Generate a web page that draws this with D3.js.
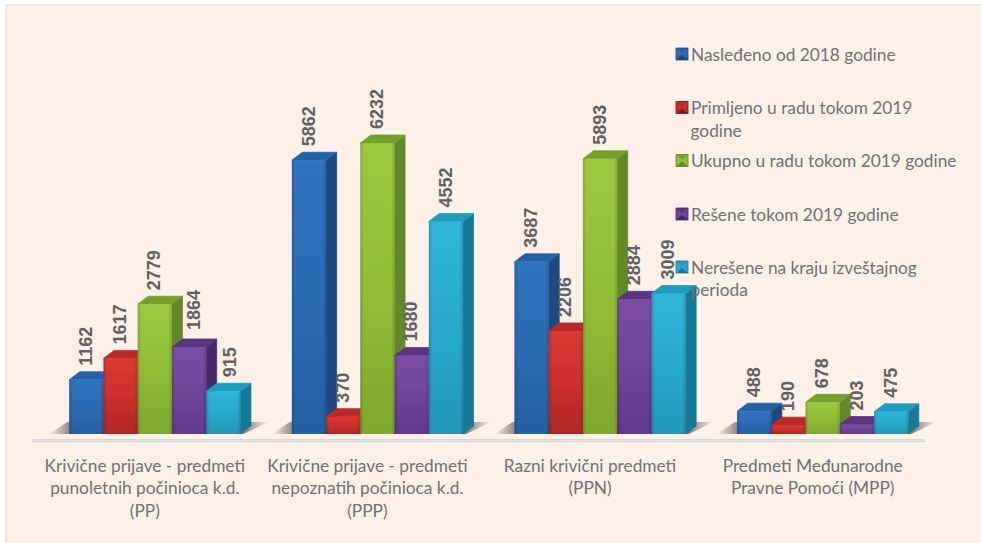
<!DOCTYPE html>
<html><head><meta charset="utf-8">
<style>html,body{margin:0;padding:0;background:#fff}svg{display:block}</style>
<script src="https://cdn.jsdelivr.net/npm/d3@7"></script></head><body>
<svg id="c" width="981" height="543"></svg>
<script>
const categories=[["Krivične prijave - predmeti","punoletnih počinioca k.d.","(PP)"],["Krivične prijave - predmeti","nepoznatih počinioca k.d.","(PPP)"],["Razni krivični predmeti","(PPN)"],["Predmeti Međunarodne","Pravne Pomoći (MPP)"]];
const seriesNames=[["Nasleđeno od 2018 godine"],["Primljeno u radu tokom 2019","godine"],["Ukupno u radu tokom 2019 godine"],["Rešene tokom 2019 godine"],["Nerešene na kraju izveštajnog","perioda"]];
const nasledjeno=[1162,5862,3687,488];
const primljeno=[1617,370,2206,190];
const ukupno=[2779,6232,5893,678];
const resene=[1864,1680,2884,203];
const neresene=[915,4552,3009,475];
const seriesValues=[nasledjeno,primljeno,ukupno,resene,neresene];
const front=[["#2f74bd","#2b6cb2","#2560a3"],["#dc3a34","#cb302d","#b02826"],["#9bca3e","#90bd36","#80a82f"],["#7d4ea6","#71449b","#62398a"],["#2fb6d8","#28aacd","#2197b9"]];
const side=["#1b4a80","#7f1c1b","#64882c","#46296b","#177a96"];
const topC=["#2463a8","#b92a28","#76a02e","#5a3683","#1f9cbf"];
const labelNudge={"3,0":[5,-3],"4,0":[7,0]};
const svg=d3.select("#c");
const defs=svg.append("defs");
front.forEach((f,i)=>{const g=defs.append("linearGradient").attr("id","g"+i).attr("x1",0).attr("x2",0).attr("y1",0).attr("y2",1);
 f.forEach((c,j)=>g.append("stop").attr("offset",j/2).attr("stop-color",c));
 const e=defs.append("linearGradient").attr("id","e"+i);
 e.append("stop").attr("offset",0).attr("stop-color","#000").attr("stop-opacity",.18);
 e.append("stop").attr("offset",.1).attr("stop-color","#000").attr("stop-opacity",0);
 e.append("stop").attr("offset",.9).attr("stop-color","#000").attr("stop-opacity",0);
 e.append("stop").attr("offset",1).attr("stop-color","#000").attr("stop-opacity",.15);});
const sh=defs.append("linearGradient").attr("id","sh");
[[0,0],[.12,.7],[.86,.75],[1,0]].forEach(s=>sh.append("stop").attr("offset",s[0]).attr("stop-color","#3a3028").attr("stop-opacity",s[1]));
const fl=defs.append("filter").attr("id","blur");fl.append("feGaussianBlur").attr("stdDeviation",.4);

svg.append("rect").attr("x",6).attr("y",5).attr("width",990).attr("height",550).attr("fill","#fdf0e6").attr("stroke","#dfe0e0").attr("stroke-width",1.2);

const base=434, dx=10.5, dy=8;
const x0=d3.scaleBand().domain(d3.range(4)).range([43.5,934]);
const x1=d3.scaleBand().domain(d3.range(5)).range([0,171.2]);
const y=d3.scaleLinear().domain([0,6232]).range([base,143]);
const gx=i=>x0(i)+(x0.bandwidth()-171.2)/2;

svg.append("rect").attr("x",33).attr("y",439.8).attr("width",891).attr("height",2).attr("fill","#e4e7e9").attr("stroke","#b9bcbc").attr("stroke-width",.5);

const groups=svg.selectAll("g.grp").data(d3.range(4)).join("g").attr("class","grp").attr("transform",i=>`translate(${gx(i)},0)`).attr("filter","url(#blur)");
groups.append("polygon").attr("points",`-20,${base} ${171.2+3},${base} ${171.2+28},${base-12} -2,${base-12}`).attr("fill","url(#sh)");
groups.each(function(c){
 const g=d3.select(this);
 d3.range(5).forEach(s=>{
  const v=seriesValues[s][c],X=x1(s),W=x1.bandwidth(),Y=y(v);
  g.append("polygon").attr("points",[[X+W,Y],[X+W+dx,Y-dy],[X+W+dx,base-dy],[X+W,base]].join(" ")).attr("fill",side[s]).attr("stroke",side[s]).attr("stroke-width",.8).attr("stroke-linejoin","round");
  g.append("polygon").attr("points",[[X,Y],[X+dx,Y-dy],[X+W+dx,Y-dy],[X+W,Y]].join(" ")).attr("fill",topC[s]).attr("stroke",topC[s]).attr("stroke-width",.8).attr("stroke-linejoin","round");
  g.append("rect").attr("x",X).attr("y",Y).attr("width",W).attr("height",base-Y).attr("fill",`url(#g${s})`);
  g.append("rect").attr("x",X).attr("y",Y).attr("width",W).attr("height",base-Y).attr("fill",`url(#e${s})`);
 });
});
d3.range(4).forEach(c=>d3.range(5).forEach(s=>{
 const v=seriesValues[s][c],n=labelNudge[s+","+c]||[0,0];
 const X=gx(c)+x1(s)+x1.bandwidth()/2-1+n[0],Y=y(v)-14+n[1];
 svg.append("text").attr("transform",`translate(${X+6.6},${Y}) rotate(-90)`).attr("font-family","Liberation Sans").attr("font-weight","bold").attr("font-size",18).attr("fill","#606163").text(v);
}));
categories.forEach((ls,c)=>{
 ls.forEach((l,i)=>svg.append("text").attr("x",x0(c)+x0.bandwidth()/2-10).attr("y",471.7+i*22.5).attr("text-anchor","middle").attr("font-family","Lato").attr("font-size",17.3).attr("fill","#6f7276").text(l));
});
const legendY=[54,107.5,160.5,214,267];
seriesNames.forEach((ls,s)=>{
 const ly=legendY[s];
 const m=svg.append("g").attr("transform",`translate(676,${ly-6})`);
 m.append("rect").attr("width",12).attr("height",12).attr("fill",front[s][1]);
 m.append("polygon").attr("points","0,0 12,0 6,5").attr("fill",topC[s]);
 m.append("polygon").attr("points","0,12 12,12 6,7").attr("fill",side[s]);
 m.append("rect").attr("width",12).attr("height",12).attr("fill","none").attr("stroke",side[s]).attr("stroke-width",.8);
 ls.forEach((l,i)=>svg.append("text").attr("x",i?690.5:691).attr("y",ly+6.7+i*22.5).attr("font-family","Lato").attr("font-size",17.3).attr("fill","#6f7276").text(l));
});
</script></body></html>
